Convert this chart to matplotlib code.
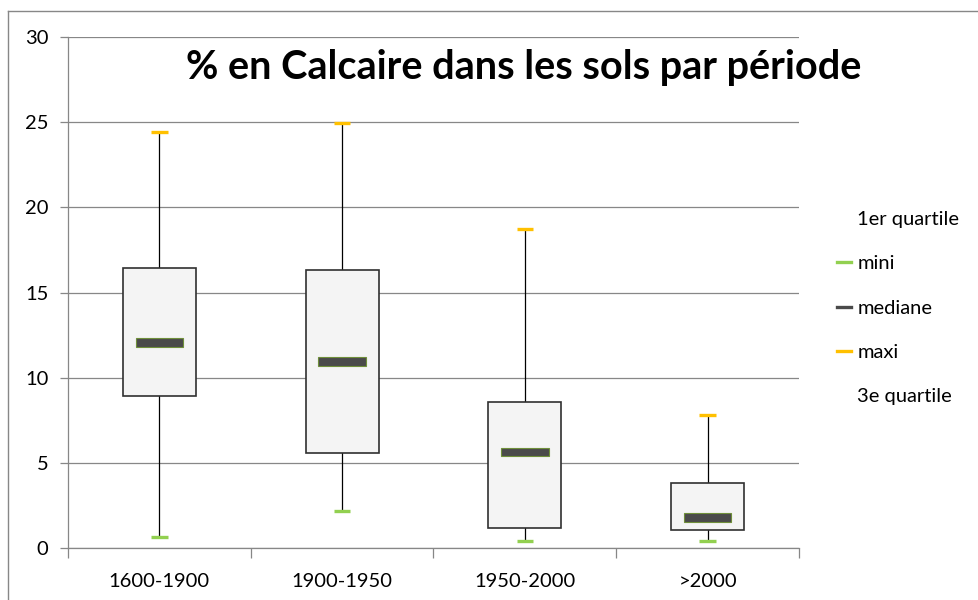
import matplotlib.pyplot as plt
from matplotlib.lines import Line2D
import numpy as np

# Données
periodes = ["1600-1900", "1900-1950", "1950-2000", ">2000"]
mini = [0.65, 2.2, 0.4, 0.4]
q1 = [8.9, 5.6, 1.2, 1.05]
mediane = [12.05, 10.95, 5.65, 1.8]
q3 = [16.45, 16.35, 8.6, 3.8]
maxi = [24.4, 24.95, 18.7, 7.8]

plt.rcParams['font.family'] = ['Lato', 'DejaVu Sans']

W, H = 979, 600
fig = plt.figure(figsize=(W / 100, H / 100), dpi=100)
ax = fig.add_axes([68 / W, (H - 548) / H, (799 - 68) / W, (548 - 37) / H])

x = np.arange(len(periodes))
gris = "#878787"

# moustaches
ax.vlines(x, mini, maxi, color="black", lw=0.9, zorder=2)
# boites
ax.bar(x, np.array(q3) - np.array(q1), bottom=q1, width=0.4,
       color="#f4f4f4", edgecolor="#303030", lw=1.2, zorder=3)
# mini / maxi
ax.hlines(mini, x - 0.045, x + 0.045, color="#92d050", lw=2.4, zorder=4)
ax.hlines(maxi, x - 0.045, x + 0.045, color="#ffc000", lw=2.4, zorder=4)
# mediane
ax.bar(x, 0.5, bottom=np.array(mediane) - 0.25, width=0.26,
       color="#4a4a4a", edgecolor="#6f8f3a", lw=0.8, zorder=5)

ax.set_xlim(-0.5, len(periodes) - 0.5)
ax.set_ylim(0, 30)
ax.set_yticks(range(0, 31, 5))
ax.yaxis.grid(True, color=gris, lw=0.9)
ax.set_axisbelow(True)

ax.set_xticks(x)
ax.set_xticklabels(periodes, fontsize=14.5)
ax.set_xticks(np.arange(-0.5, len(periodes), 1), minor=True)
ax.tick_params(axis='x', which='major', length=0, pad=18)
ax.tick_params(axis='x', which='minor', length=7, color=gris, width=0.9)
ax.tick_params(axis='y', length=6, color=gris, width=0.9, labelsize=14.5, pad=8)
for s in ["top", "right"]:
    ax.spines[s].set_visible(False)
for s in ["left", "bottom"]:
    ax.spines[s].set_color(gris)
    ax.spines[s].set_linewidth(0.9)

ax.text(0.623, 0.94, "% en Calcaire dans les sols par période", transform=ax.transAxes,
        ha="center", va="center", fontsize=28.5, fontweight="bold")

handles = [
    Line2D([], [], color="none"),
    Line2D([], [], color="#92d050", lw=2.4),
    Line2D([], [], color="#4a4a4a", lw=2.4),
    Line2D([], [], color="#ffc000", lw=2.4),
    Line2D([], [], color="none"),
]
labels = ["1er quartile", "mini", "mediane", "maxi", "3e quartile"]
fig.legend(handles, labels, loc="center left", bbox_to_anchor=(827 / W, 1 - 308 / H),
           frameon=False, fontsize=14.5, handlelength=0.7, handletextpad=0.3,
           labelspacing=1.35, borderpad=0)

# cadre du graphique
fig.add_artist(Line2D([8 / W, 8 / W], [0, 1 - 11 / H], color=gris, lw=1))
fig.add_artist(Line2D([8 / W, 1], [1 - 11 / H, 1 - 11 / H], color=gris, lw=1))

fig.savefig("out.png", dpi=100)
